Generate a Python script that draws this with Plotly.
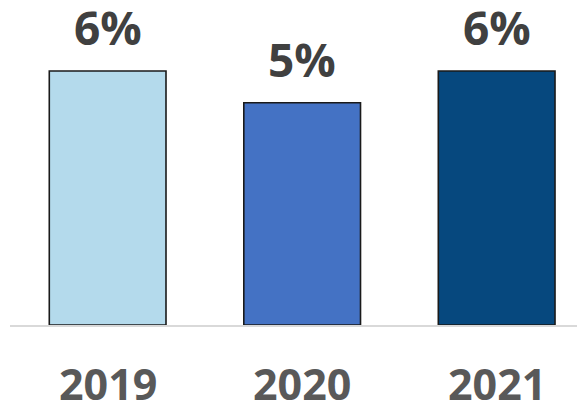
import plotly.graph_objects as go

years = ["2019", "2020", "2021"]
values = [6.0, 5.25, 6.0]
colors = ["#b4daec", "#4472c4", "#06487e"]

labels = [f"{round(v)}%" for v in values]

fig = go.Figure()
fig.add_trace(go.Bar(
    x=list(range(len(years))),
    y=values,
    width=0.6,
    marker=dict(color=colors, line=dict(color="#1a1a1a", width=1.6)),
    hoverinfo="skip",
))

for i, (v, lab) in enumerate(zip(values, labels)):
    fig.add_annotation(
        x=i, y=v, text=f"<b>{lab}</b>", showarrow=False,
        xref="x", yref="y", yanchor="bottom", yshift=11,
        font=dict(family="Open Sans", size=46, color="#404040"),
    )

for i, yr in enumerate(years):
    fig.add_annotation(
        x=i, y=0, text=f"<b>{yr}</b>", showarrow=False,
        xref="x", yref="paper", yanchor="top", yshift=-27,
        font=dict(family="Open Sans", size=43, color="#595959"),
    )

fig.update_layout(
    width=577, height=403,
    margin=dict(l=10, r=0, t=0, b=78),
    paper_bgcolor="white", plot_bgcolor="rgba(0,0,0,0)",
    showlegend=False,
)
fig.update_xaxes(
    range=[-0.502, 2.413],
    showticklabels=False, automargin=False,
    showline=True, linecolor="#d9d9d9", linewidth=2,
    ticks="", showgrid=False, zeroline=False,
)
fig.update_yaxes(
    range=[0, 325 / (254 / 6.0)], automargin=False,
    visible=False, showgrid=False, zeroline=False,
)

fig.write_html(
    "out.html",
    config={"displayModeBar": False, "staticPlot": True},
    post_script="document.body.style.margin='0';document.body.style.overflow='hidden';",
)
